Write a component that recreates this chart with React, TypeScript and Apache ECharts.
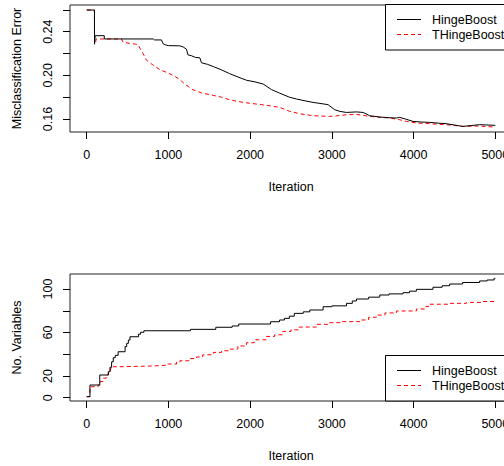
import React, { useEffect, useRef } from "react";
import * as echarts from "echarts";

const iterTicks = [0, 1000, 2000, 3000, 4000, 5000];
const errTicks = [0.16, 0.18, 0.2, 0.22, 0.24, 0.26];
const errLabels = [0.16, 0.2, 0.24];
const varTicks = [0, 20, 40, 60, 80, 100];
const varLabels = [0, 20, 60, 100];
const seriesNames = ["HingeBoost", "THingeBoost"];

// Misclassification error, HingeBoost
const hingeErrIter = [0, 95, 96, 103, 104, 215, 216, 815, 830, 915, 935, 960, 1000, 1140, 1180, 1220, 1240, 1280, 1330, 1385, 1405, 1480, 1550, 1650, 1750, 1850, 1955, 2060, 2160, 2260, 2360, 2480, 2567, 2680, 2770, 2880, 2954, 3035, 3097, 3178, 3300, 3382, 3463, 3586, 3700, 3790, 3830, 3900, 3993, 4100, 4197, 4300, 4401, 4500, 4604, 4700, 4808, 4900, 5000];
const hingeErrVal = [0.2598, 0.2598, 0.2285, 0.2285, 0.2363, 0.2363, 0.2333, 0.2333, 0.2324, 0.2324, 0.229, 0.228, 0.2272, 0.227, 0.226, 0.224, 0.2187, 0.218, 0.2164, 0.216, 0.2115, 0.21, 0.208, 0.205, 0.2015, 0.1985, 0.1955, 0.194, 0.192, 0.187, 0.1837, 0.18, 0.1783, 0.1765, 0.1752, 0.174, 0.1731, 0.1685, 0.167, 0.166, 0.1665, 0.166, 0.163, 0.1618, 0.1612, 0.1609, 0.1615, 0.16, 0.1578, 0.1572, 0.1569, 0.1562, 0.1557, 0.1545, 0.1532, 0.154, 0.1548, 0.1545, 0.1542];

// Misclassification error, THingeBoost
const thingeErrIter = [0, 95, 96, 110, 115, 425, 445, 600, 630, 650, 690, 730, 800, 900, 1000, 1080, 1140, 1200, 1300, 1400, 1550, 1650, 1750, 1850, 1955, 2100, 2250, 2363, 2485, 2608, 2770, 2975, 3100, 3178, 3301, 3463, 3600, 3708, 3820, 3912, 4034, 4197, 4401, 4500, 4604, 4808, 4900, 5000];
const thingeErrVal = [0.2598, 0.2598, 0.23, 0.23, 0.2333, 0.2333, 0.2303, 0.2285, 0.2279, 0.225, 0.22, 0.214, 0.21, 0.205, 0.202, 0.199, 0.196, 0.192, 0.1868, 0.184, 0.1816, 0.18, 0.1776, 0.176, 0.1748, 0.1735, 0.172, 0.1706, 0.167, 0.1648, 0.163, 0.1624, 0.1632, 0.1639, 0.1642, 0.1624, 0.1615, 0.1609, 0.1595, 0.1578, 0.1563, 0.1557, 0.1548, 0.154, 0.1532, 0.1536, 0.153, 0.1527];

// Number of variables, HingeBoost (step starts)
const hingeVarIter = [0, 40, 160, 265, 285, 305, 325, 350, 385, 470, 490, 510, 530, 635, 660, 700, 1270, 1580, 1780, 1860, 2250, 2360, 2420, 2480, 2540, 2650, 2730, 2893, 3000, 3179, 3250, 3301, 3450, 3586, 3700, 3871, 3950, 4034, 4237, 4350, 4441, 4600, 4808, 4900, 4985, 5000];
const hingeVarVal = [1, 11.7, 20.9, 24, 28, 33, 36.8, 39, 42.3, 47, 50, 53, 56.1, 58.5, 60.2, 61.6, 62.9, 64.8, 66, 67.8, 69.9, 71.5, 73, 75, 77.6, 79, 80.7, 83.7, 84.5, 86.8, 89, 90.8, 92.5, 94.5, 95.5, 96.6, 98, 99.7, 101.6, 103, 104.6, 106, 107.4, 108.3, 109.8, 109.8];

// Number of variables, THingeBoost (step starts)
const thingeVarIter = [0, 40, 140, 170, 200, 240, 265, 290, 325, 400, 700, 900, 980, 1100, 1140, 1250, 1345, 1420, 1550, 1650, 1750, 1850, 1955, 2050, 2200, 2300, 2400, 2500, 2600, 2812, 2950, 3097, 3342, 3450, 3545, 3650, 3790, 4034, 4150, 4197, 4441, 4645, 4850, 5000];
const thingeVarVal = [1, 10.1, 11.7, 15, 18, 21, 24, 27, 28.5, 29, 29.5, 30, 31, 33, 34, 36, 37.5, 39.5, 41.7, 43.2, 44.7, 47.6, 50.6, 53.3, 56.4, 57.9, 61, 62.5, 65, 67.5, 69, 70, 71.5, 74, 76, 78, 79.8, 81.6, 84, 86, 86.8, 87.7, 88.5, 89];

const pairs = (xs: number[], ys: number[]) => xs.map((x, i) => [x, ys[i]]);

const FONT = "'Liberation Sans', Arial, Helvetica, sans-serif";
const FS = 12.5;
const RED = "#ff0000";
const DASH = [4, 3];

function legendBox(top: number) {
  return {
    type: "group",
    x: 385,
    y: top,
    silent: true,
    children: [
      { type: "rect", shape: { x: 0.5, y: 0.5, width: 200, height: 45.5 }, style: { fill: "#fff", stroke: "#000", lineWidth: 1 } },
      { type: "line", shape: { x1: 12, y1: 15.5, x2: 36, y2: 15.5 }, style: { stroke: "#000", lineWidth: 1 } },
      { type: "line", shape: { x1: 12, y1: 30.5, x2: 36, y2: 30.5 }, style: { stroke: RED, lineWidth: 1, lineDash: DASH } },
      { type: "text", x: 47, y: 15.5, style: { text: seriesNames[0], fill: "#000", font: `${FS}px ${FONT}`, verticalAlign: "middle", align: "left" } },
      { type: "text", x: 47, y: 30.5, style: { text: seriesNames[1], fill: "#000", font: `${FS}px ${FONT}`, verticalAlign: "middle", align: "left" } },
    ],
  };
}

export default function App() {
  const ref = useRef<HTMLDivElement>(null);
  useEffect(() => {
    if (!ref.current) return;
    const chart = echarts.init(ref.current, undefined, { renderer: "svg" });
    const txt = { color: "#000", fontFamily: FONT, fontSize: FS };
    const gridBox = { show: true, borderColor: "#222", borderWidth: 1, backgroundColor: "transparent" };
    const xAx = (gridIndex: number) => ({
      type: "value",
      gridIndex,
      min: -204,
      max: 5204,
      name: "Iteration",
      nameLocation: "middle",
      nameGap: 48,
      nameTextStyle: txt,
      axisLine: { show: false, onZero: false },
      axisTick: { show: true, customValues: iterTicks, length: 7, inside: false, lineStyle: { color: "#000", width: 1 } },
      axisLabel: { show: true, customValues: iterTicks, margin: 16.5, ...txt, formatter: (v: number) => String(v) },
      splitLine: { show: false },
    });
    const yAx = (gridIndex: number, min: number, max: number, ticks: number[], labels: number[], name: string, fmt: (v: number) => string) => ({
      type: "value",
      gridIndex,
      min,
      max,
      name,
      nameLocation: "middle",
      nameGap: 47,
      nameRotate: 90,
      nameTextStyle: txt,
      axisLine: { show: false, onZero: false },
      axisTick: { show: true, customValues: ticks, length: 7, lineStyle: { color: "#000", width: 1 } },
      axisLabel: { show: true, customValues: labels, rotate: 90, margin: 16, ...txt, formatter: fmt },
      splitLine: { show: false },
    });
    const blackLine = { color: "#000", width: 1, type: "solid" };
    const redLine = { color: RED, width: 1, type: DASH };
    chart.setOption({
      animation: false,
      grid: [
        { left: 70, top: 5, width: 442, height: 127, ...gridBox },
        { left: 70, top: 274, width: 442, height: 127, ...gridBox },
      ],
      xAxis: [xAx(0), xAx(1)],
      yAxis: [
        yAx(0, 0.1481, 0.2644, errTicks, errLabels, "Misclassification Error", (v: number) => v.toFixed(2)),
        yAx(1, -3, 113.8, varTicks, varLabels, "No. Variables", (v: number) => String(v)),
      ],
      graphic: [legendBox(4), legendBox(355)],
      series: [
        { name: seriesNames[0], type: "line", xAxisIndex: 0, yAxisIndex: 0, showSymbol: false, symbol: "none", lineStyle: blackLine, itemStyle: { color: "#000" }, data: pairs(hingeErrIter, hingeErrVal), z: 3 },
        { name: seriesNames[1], type: "line", xAxisIndex: 0, yAxisIndex: 0, showSymbol: false, symbol: "none", lineStyle: redLine, itemStyle: { color: RED }, data: pairs(thingeErrIter, thingeErrVal), z: 2 },
        { name: seriesNames[0], type: "line", xAxisIndex: 1, yAxisIndex: 1, step: "end", showSymbol: false, symbol: "none", lineStyle: blackLine, itemStyle: { color: "#000" }, data: pairs(hingeVarIter, hingeVarVal), z: 3 },
        { name: seriesNames[1], type: "line", xAxisIndex: 1, yAxisIndex: 1, step: "end", showSymbol: false, symbol: "none", lineStyle: redLine, itemStyle: { color: RED }, data: pairs(thingeVarIter, thingeVarVal), z: 2 },
      ],
    });
    return () => chart.dispose();
  }, []);
  return (
    <div style={{ position: "fixed", left: 0, top: 0, width: 504, height: 466, overflow: "hidden", background: "#fff" }}>
      <div ref={ref} style={{ width: 540, height: 466 }} />
    </div>
  );
}
